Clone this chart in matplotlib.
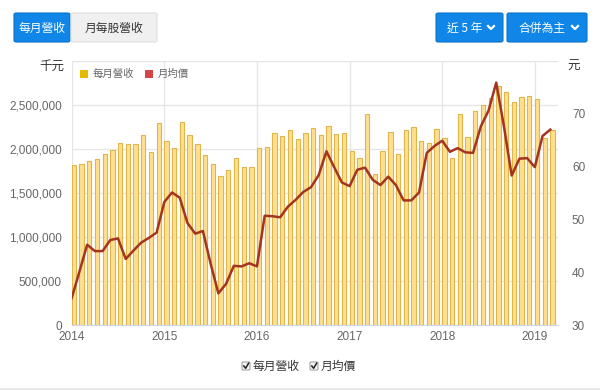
import matplotlib
matplotlib.use("Agg")
import matplotlib.pyplot as plt
from matplotlib.patches import FancyBboxPatch, Rectangle
from matplotlib.lines import Line2D
import numpy as np

plt.rcParams['font.family'] = ['Noto Sans CJK TC', 'DejaVu Sans']

years = ['2014', '2015', '2016', '2017', '2018', '2019']
revenue = [  # 千元
    1815000, 1834000, 1868000, 1890000, 1942000, 1994000, 2072000, 2060000, 2062000, 2154000, 1969000, 2300000,
    2095000, 2008000, 2308000, 2157000, 2058000, 1937000, 1834000, 1697000, 1767000, 1896000, 1790000, 1800000,
    2017000, 2027000, 2187000, 2150000, 2213000, 2111000, 2180000, 2237000, 2154000, 2256000, 2173000, 2187000,
    1972000, 1898000, 2403000, 1714000, 1972000, 2189000, 1938000, 2220000, 2255000, 2092000, 2068000, 2226000,
    2130000, 1900000, 2399000, 2131000, 2430000, 2500000, 2576000, 2720000, 2645000, 2530000, 2587000, 2600000,
    2563000, 2130000, 2220000,
]
price = [  # 元
    35.1, 40.1, 45.2, 44.0, 44.0, 46.1, 46.4, 42.5, 44.1, 45.6, 46.5, 47.5,
    53.3, 55.1, 54.1, 49.3, 47.3, 47.8, 41.6, 36.0, 37.8, 41.2, 41.1, 41.7,
    41.1, 50.7, 50.6, 50.4, 52.4, 53.7, 55.2, 56.1, 58.4, 62.9, 59.9, 57.0,
    56.3, 59.4, 59.8, 57.5, 56.5, 58.1, 56.5, 53.6, 53.6, 55.1, 62.6, 63.9,
    64.9, 62.8, 63.5, 62.7, 62.6, 67.6, 70.6, 75.9, 67.6, 58.3, 61.5, 61.6,
    59.9, 65.8, 67.0,
]
left_ticks = [0, 500000, 1000000, 1500000, 2000000, 2500000, 3000000]
right_ticks = [30, 40, 50, 60, 70, 80]

W, H = 600, 390
fig = plt.figure(figsize=(6, 3.9), dpi=100)

def fx(px):
    return px / W

def fy(py):
    return 1 - py / H

x0, x1, ytop, ybot = 71.7, 558, 61, 325
ax = fig.add_axes([fx(x0), fy(ybot), fx(x1) - fx(x0), fy(ytop) - fy(ybot)])
months = np.arange(len(revenue))

ax.bar(months, revenue, width=0.56, align='edge', color='#FDE08F',
       edgecolor='#E2B54A', linewidth=0.8, zorder=2)
ax.set_xlim(0, 63)
ax.set_ylim(0, 3000000)
ax.set_yticks(left_ticks)
ax.set_yticklabels(['' if v == 3000000 else f'{v:,}' for v in left_ticks])
ax.set_xticks([i * 12 for i in range(len(years))])
ax.set_xticklabels(years)
ax.grid(True, color='#e6e6e6', linewidth=1, zorder=0)
ax.set_axisbelow(True)
for s in ['top', 'right', 'left']:
    ax.spines[s].set_visible(False)
ax.spines['bottom'].set_color('#ccd6eb')
ax.tick_params(axis='both', length=0, labelsize=8.5, colors='#666666')
ax.tick_params(axis='y', pad=7)
ax.tick_params(axis='x', pad=4)
for lab in ax.get_xticklabels() + ax.get_yticklabels():
    lab.set_family(['Liberation Sans', 'DejaVu Sans'])

ax2 = ax.twinx()
ax2.plot(months, price, color='#A33520', linewidth=1.8, zorder=5)
ax2.set_ylim(30, 80)
ax2.set_yticks(right_ticks)
ax2.set_yticklabels([str(v) if v != 80 else '' for v in right_ticks])
for s in ['top', 'right', 'left', 'bottom']:
    ax2.spines[s].set_visible(False)
ax2.tick_params(axis='y', length=0, labelsize=8.5, colors='#666666', pad=10)
for lab in ax2.get_yticklabels():
    lab.set_family(['Liberation Sans', 'DejaVu Sans'])

# axis unit titles
fig.text(fx(64), fy(66), '千元', ha='right', va='center', fontsize=9, color='#333333')
fig.text(fx(567), fy(66), '元', ha='left', va='center', fontsize=9, color='#333333')

# in-plot legend
fig.patches.append(Rectangle((fx(80), fy(78)), fx(8), fy(70) - fy(78), transform=fig.transFigure,
                             facecolor='#E6B800', edgecolor='none'))
fig.text(fx(93), fy(74), '每月營收', ha='left', va='center', fontsize=7.5, color='#666666')
fig.patches.append(Rectangle((fx(145), fy(78)), fx(8), fy(70) - fy(78), transform=fig.transFigure,
                             facecolor='#D44545', edgecolor='none'))
fig.text(fx(158), fy(74), '月均價', ha='left', va='center', fontsize=7.5, color='#666666')

# buttons
def button(xl, xr, label, fill, txtcolor, edge, chevron=False):
    fig.patches.append(FancyBboxPatch((fx(xl), fy(42)), fx(xr) - fx(xl), fy(13) - fy(42),
                                      boxstyle='round,pad=0,rounding_size=0.004',
                                      transform=fig.transFigure, facecolor=fill,
                                      edgecolor=edge, linewidth=0.8))
    if chevron:
        cx = (xl + xr) / 2 - 5
        fig.text(fx(cx), fy(28), label, ha='center', va='center', fontsize=8.5, color=txtcolor)
        chx = xr - 12
        fig.lines.append(Line2D([fx(chx - 3), fx(chx), fx(chx + 3)], [fy(26), fy(29), fy(26)],
                                transform=fig.transFigure, color=txtcolor, linewidth=1.6))
    else:
        fig.text(fx((xl + xr) / 2), fy(28), label, ha='center', va='center', fontsize=8.5, color=txtcolor)

blue = '#0F86E8'
button(14, 70, '每月營收', blue, 'white', '#0b74c9')
button(71, 157, '月每股營收', '#f0f0f0', '#333333', '#dddddd')
button(436, 503, '近 5 年', blue, 'white', '#0b74c9', chevron=True)
button(507, 587, '合併為主', blue, 'white', '#0b74c9', chevron=True)

# bottom checkboxes
def checkbox(xl, label):
    fig.patches.append(FancyBboxPatch((fx(xl), fy(370)), fx(8), fy(362) - fy(370),
                                      boxstyle='round,pad=0,rounding_size=0.002',
                                      transform=fig.transFigure, facecolor='#f4f4f4',
                                      edgecolor='#999999', linewidth=0.7))
    fig.lines.append(Line2D([fx(xl + 1.8), fx(xl + 3.6), fx(xl + 6.6)],
                            [fy(366), fy(368.3), fy(363.2)],
                            transform=fig.transFigure, color='#222222', linewidth=1.1))
    fig.text(fx(xl + 11), fy(366.5), label, ha='left', va='center', fontsize=8.5, color='#333333')

checkbox(242, '每月營收')
checkbox(310, '月均價')

fig.lines.append(Line2D([0, 1], [fy(389), fy(389)], transform=fig.transFigure,
                        color='#e8e8e8', linewidth=1.5))

fig.savefig('out.png', dpi=100)
